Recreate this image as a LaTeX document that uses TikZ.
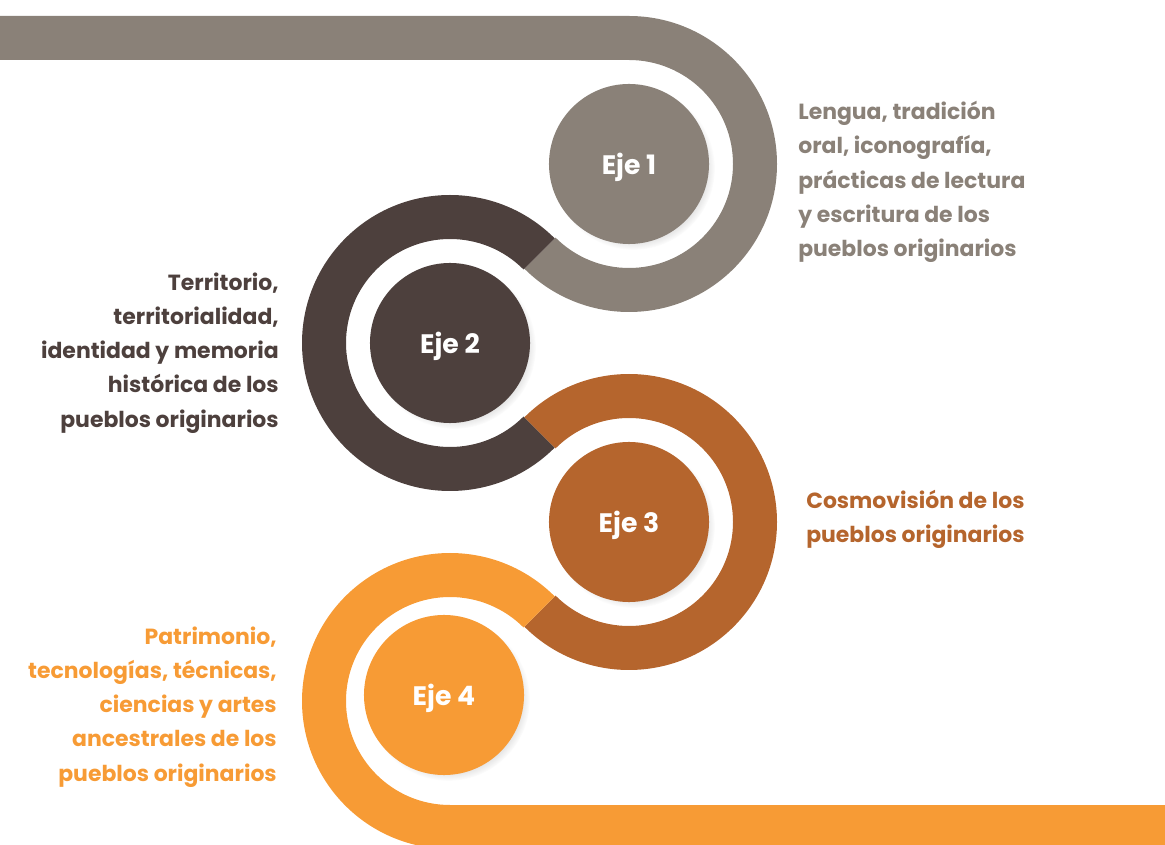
\documentclass[tikz,border=0pt]{standalone}
\usepackage{fontspec}
\setmainfont{Poppins}
\usetikzlibrary{shadows}

\definecolor{ejeuno}{HTML}{8A8178}
\definecolor{ejedos}{HTML}{4D403D}
\definecolor{ejetres}{HTML}{B5652D}
\definecolor{ejecuatro}{HTML}{F79B35}

\begin{document}
\begin{tikzpicture}[x=0.025cm,y=0.025cm,
  eje/.style={circle,minimum size=4cm,text=white,text depth=0pt,
    font=\fontsize{19}{22}\selectfont\bfseries,
    circular drop shadow={shadow xshift=3pt,shadow yshift=-3pt,shadow scale=1.02,opacity=0.3}},
  lema/.style={inner sep=0pt,font=\fontsize{15.6}{24.3}\selectfont\bfseries}]
\useasboundingbox (0,0) rectangle (1165,-845);
\clip (0,0) rectangle (1165,-845);

\coordinate (C1) at (629,-164);
\coordinate (C2) at (450,-343);
\coordinate (C3) at (629,-522);
\coordinate (C4) at (450,-701);

% bandas
\fill[ejeuno] (0,-16) -- (629,-16) arc[start angle=90,end angle=-135,radius=148]
  -- ++(45:44) arc[start angle=-135,end angle=90,radius=104] -- (0,-60) -- cycle;
\fill[ejedos] ([shift={(45:148)}]C2) arc[start angle=45,end angle=315,radius=148]
  -- ++(135:44) arc[start angle=315,end angle=45,radius=104] -- cycle;
\fill[ejetres] ([shift={(135:148)}]C3) arc[start angle=135,end angle=-135,radius=148]
  -- ++(45:44) arc[start angle=-135,end angle=135,radius=104] -- cycle;
\fill[ejecuatro] ([shift={(45:148)}]C4) arc[start angle=45,end angle=270,radius=148]
  -- (1165,-849) -- (1165,-805) -- ([shift={(270:104)}]C4)
  arc[start angle=270,end angle=45,radius=104] -- cycle;

% ejes
\node[eje,fill=ejeuno] (E1) at (C1) {Eje 1};
\node[eje,fill=ejedos] (E2) at (C2) {Eje 2};
\node[eje,fill=ejetres] (E3) at (C3) {Eje 3};
\node[eje,fill=ejecuatro] (E4) at (444,-695) {Eje 4};

% textos
\node[lema,text=ejeuno,align=left,anchor=west] (T1) at (798,-182)
  {Lengua, tradición\\oral, iconografía,\\prácticas de lectura\\y escritura de los\\pueblos originarios};
\node[lema,text=ejedos,align=right,anchor=east] (T2) at (279,-353)
  {Territorio,\\territorialidad,\\identidad y memoria\\histórica de los\\pueblos originarios};
\node[lema,text=ejetres,align=left,anchor=west] (T3) at (806,-519)
  {Cosmovisión de los\\pueblos originarios};
\node[lema,text=ejecuatro,align=right,anchor=east] (T4) at (277,-707)
  {Patrimonio,\\tecnologías, técnicas,\\ciencias y artes\\ancestrales de los\\pueblos originarios};
\end{tikzpicture}
\end{document}
